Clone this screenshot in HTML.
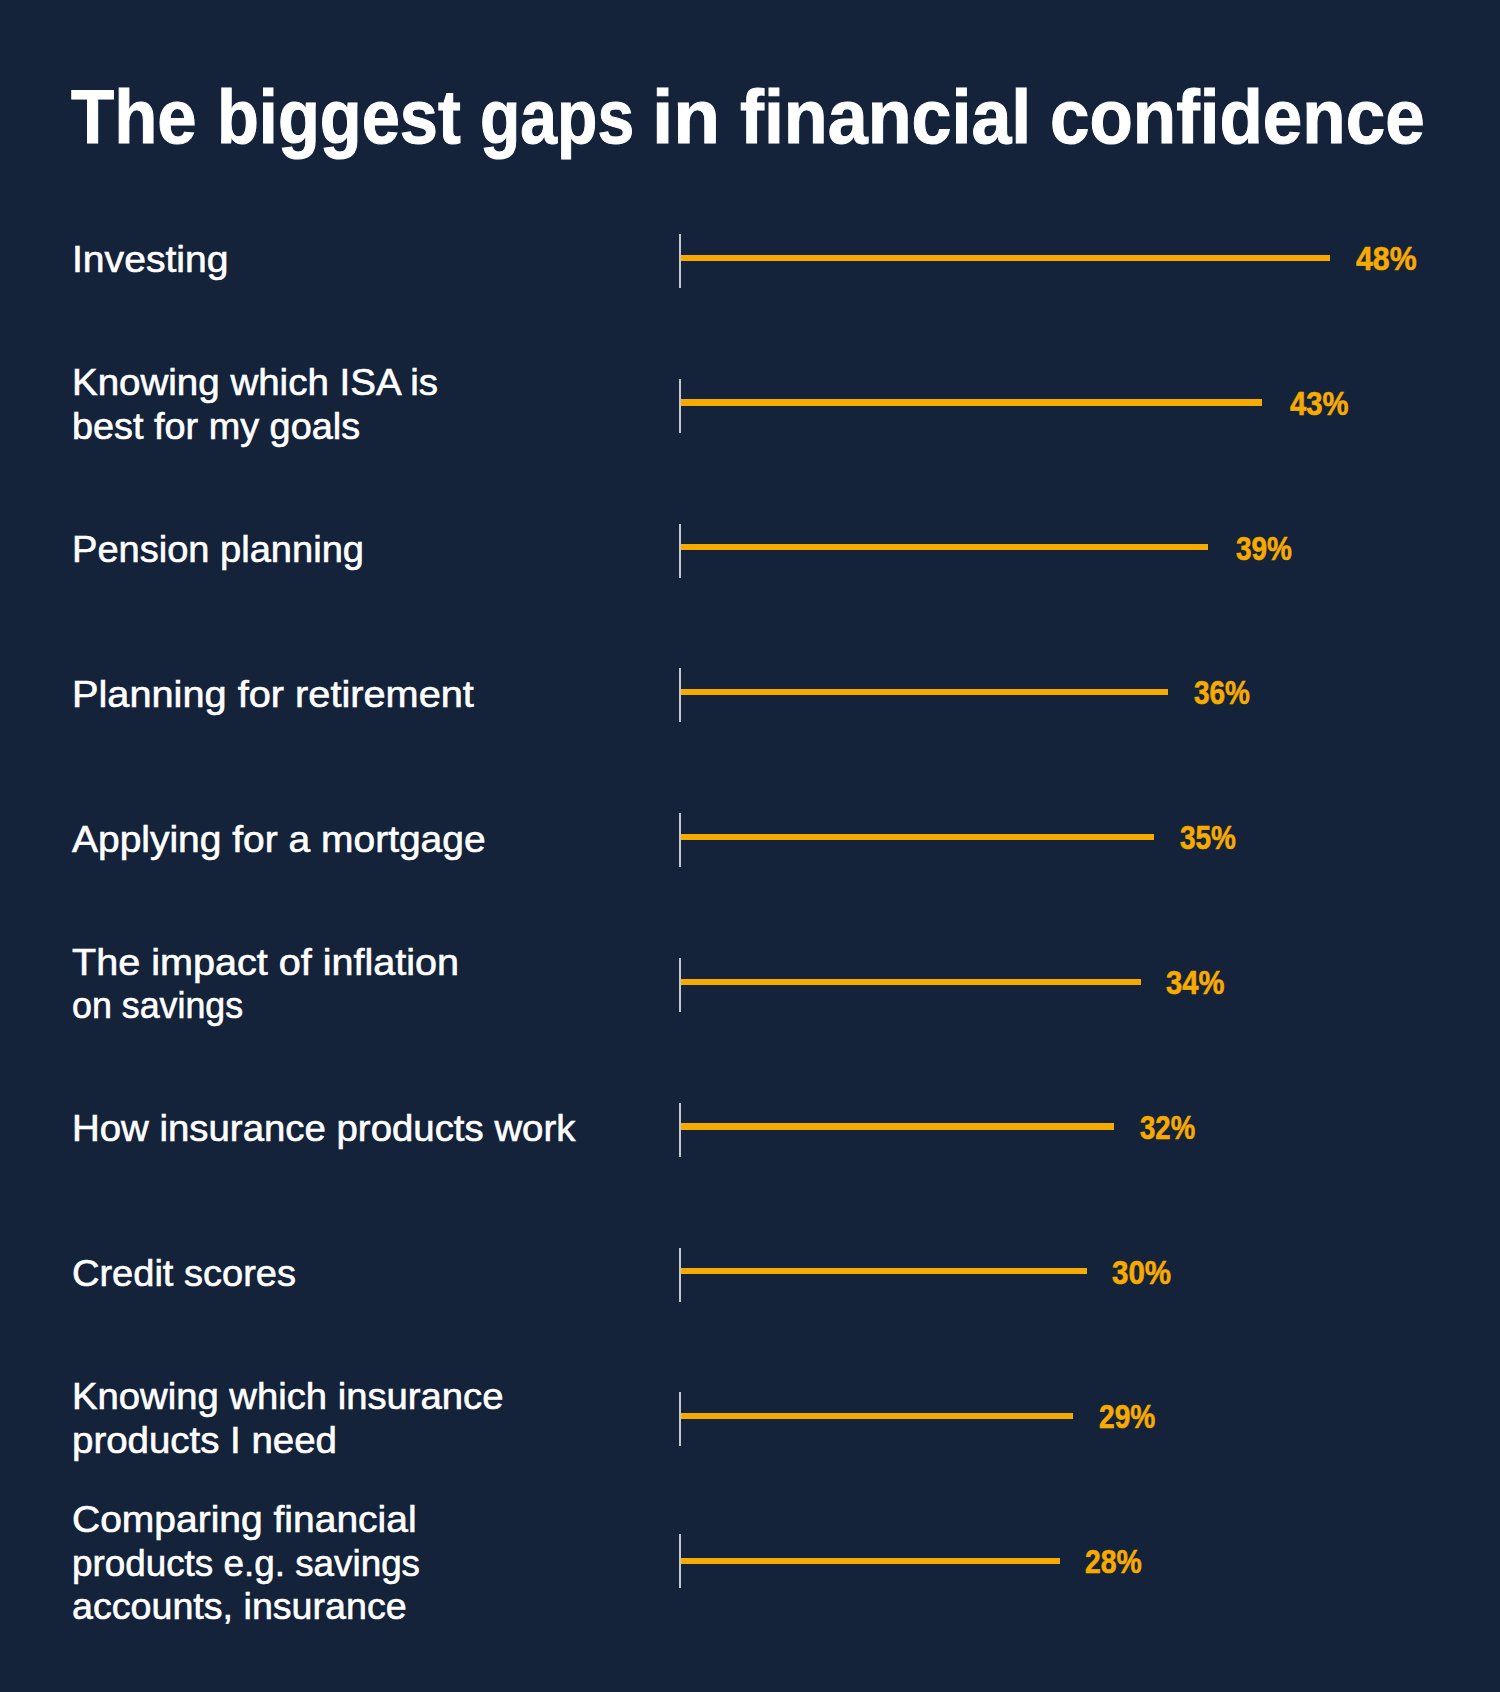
<!DOCTYPE html>
<html><head><meta charset="utf-8"><style>
html,body{margin:0;padding:0;}
body{width:1500px;height:1692px;background:#14233a;position:relative;overflow:hidden;font-family:"Liberation Sans",sans-serif;}
.t{position:absolute;-webkit-text-stroke:1px #fff;font-weight:700;font-size:76.0px;line-height:76.0px;color:#fff;white-space:nowrap;transform-origin:0 0;}
.l{position:absolute;left:72px;-webkit-text-stroke:0.6px #fff;font-size:37.0px;line-height:43.5px;color:#fff;white-space:nowrap;transform-origin:0 0;}
.v{position:absolute;left:679px;width:2px;height:54px;background:#c3c7ce;}
.b{position:absolute;left:681px;height:6.4px;background:#f7ab00;}
.p{position:absolute;-webkit-text-stroke:0.6px #f7ab00;font-weight:700;font-size:34.0px;line-height:34.0px;color:#f7ab00;white-space:nowrap;transform-origin:0 0;}
</style></head><body>
<div class="t" style="top:78.95px;left:71.21px;transform:scaleX(0.9296)">The</div>
<div class="t" style="top:78.95px;left:217.08px;transform:scaleX(0.9020)">biggest</div>
<div class="t" style="top:78.95px;left:479.69px;transform:scaleX(0.8694)">gaps</div>
<div class="t" style="top:78.95px;left:651.65px;transform:scaleX(1.0084)">in</div>
<div class="t" style="top:78.95px;left:739.77px;transform:scaleX(0.9449)">financial</div>
<div class="t" style="top:78.95px;left:1049.83px;transform:scaleX(0.9337)">confidence</div>
<div class="l" style="top:238.42px;transform:scaleX(1.0569)">Investing</div>
<div class="v" style="top:234.00px"></div>
<div class="b" style="top:254.50px;width:648.96px"></div>
<div class="p" style="top:240.91px;left:1356.04px;transform:scaleX(0.8914)">48%</div>
<div class="l" style="top:361.47px;transform:scaleX(1.0406)">Knowing which ISA is</div>
<div class="l" style="top:404.97px;transform:scaleX(1.0225)">best for my goals</div>
<div class="v" style="top:378.80px"></div>
<div class="b" style="top:399.30px;width:581.36px"></div>
<div class="p" style="top:385.71px;left:1289.56px;transform:scaleX(0.8599)">43%</div>
<div class="l" style="top:528.02px;transform:scaleX(1.0284)">Pension planning</div>
<div class="v" style="top:523.60px"></div>
<div class="b" style="top:544.10px;width:527.28px"></div>
<div class="p" style="top:530.51px;left:1235.66px;transform:scaleX(0.8226)">39%</div>
<div class="l" style="top:672.82px;transform:scaleX(1.0737)">Planning for retirement</div>
<div class="v" style="top:668.40px"></div>
<div class="b" style="top:688.90px;width:486.72px"></div>
<div class="p" style="top:675.31px;left:1193.66px;transform:scaleX(0.8226)">36%</div>
<div class="l" style="top:817.62px;transform:scaleX(1.0529)">Applying for a mortgage</div>
<div class="v" style="top:813.20px"></div>
<div class="b" style="top:833.70px;width:473.20px"></div>
<div class="p" style="top:820.11px;left:1179.96px;transform:scaleX(0.8226)">35%</div>
<div class="l" style="top:940.67px;transform:scaleX(1.0694)">The impact of inflation</div>
<div class="l" style="top:984.17px;transform:scaleX(0.9672)">on savings</div>
<div class="v" style="top:958.00px"></div>
<div class="b" style="top:978.50px;width:459.68px"></div>
<div class="p" style="top:964.91px;left:1166.43px;transform:scaleX(0.8588)">34%</div>
<div class="l" style="top:1107.22px;transform:scaleX(1.0373)">How insurance products work</div>
<div class="v" style="top:1102.80px"></div>
<div class="b" style="top:1123.30px;width:432.64px"></div>
<div class="p" style="top:1109.71px;left:1139.67px;transform:scaleX(0.8106)">32%</div>
<div class="l" style="top:1252.02px;transform:scaleX(1.0276)">Credit scores</div>
<div class="v" style="top:1247.60px"></div>
<div class="b" style="top:1268.10px;width:405.60px"></div>
<div class="p" style="top:1254.51px;left:1112.32px;transform:scaleX(0.8678)">30%</div>
<div class="l" style="top:1375.07px;transform:scaleX(1.0333)">Knowing which insurance</div>
<div class="l" style="top:1418.57px;transform:scaleX(1.0389)">products I need</div>
<div class="v" style="top:1392.40px"></div>
<div class="b" style="top:1412.90px;width:392.08px"></div>
<div class="p" style="top:1399.31px;left:1098.52px;transform:scaleX(0.8276)">29%</div>
<div class="l" style="top:1498.12px;transform:scaleX(1.0538)">Comparing financial</div>
<div class="l" style="top:1541.62px;transform:scaleX(0.9954)">products e.g. savings</div>
<div class="l" style="top:1585.12px;transform:scaleX(1.0170)">accounts, insurance</div>
<div class="v" style="top:1534.00px"></div>
<div class="b" style="top:1557.70px;width:378.56px"></div>
<div class="p" style="top:1544.11px;left:1085.12px;transform:scaleX(0.8352)">28%</div>
</body></html>
